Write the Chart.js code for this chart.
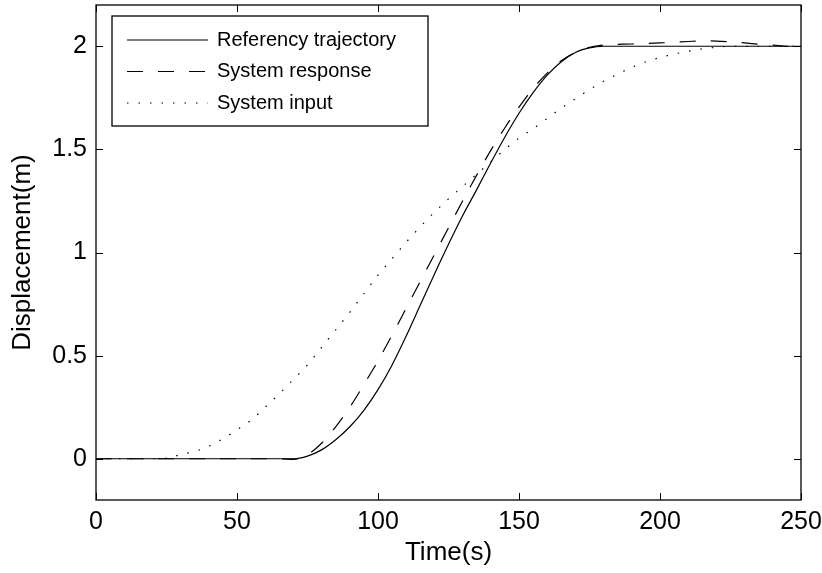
<!DOCTYPE html>
<html>
<head>
<meta charset="utf-8">
<script src="https://cdn.jsdelivr.net/npm/chart.js@4.4.0/dist/chart.umd.min.js"></script>
<style>
  html, body { margin: 0; padding: 0; background: #fff; }
  #wrap { width: 822px; height: 573px; }
</style>
</head>
<body>
<div id="wrap"><canvas id="chart"></canvas></div>
<script>
// values (time in s, displacement in m)
const refTime = [0, 10, 20, 30, 40, 50, 60, 65, 70, 75, 80, 85, 90, 95, 100, 105, 110, 115, 120, 125, 130, 135, 140, 145, 150, 155, 160, 165, 170, 175, 180, 200, 225, 250];
const refValues = [0, 0, 0, 0, 0, 0, 0, 0, 0, 0.013, 0.043, 0.092, 0.155, 0.235, 0.335, 0.455, 0.595, 0.745, 0.895, 1.04, 1.178, 1.305, 1.435, 1.56, 1.675, 1.775, 1.86, 1.925, 1.97, 1.992, 2, 2, 2, 2];

const respTime = [0, 10, 20, 30, 40, 50, 60, 65, 70, 75, 80, 85, 90, 95, 100, 105, 110, 115, 120, 125, 130, 135, 140, 145, 150, 155, 160, 165, 170, 175, 180, 190, 200, 210, 215, 220, 225, 230, 235, 240, 245, 250];
const respValues = [0, 0, 0, 0, 0, 0, 0, 0, -0.003, 0.02, 0.075, 0.155, 0.25, 0.36, 0.475, 0.6, 0.73, 0.86, 0.99, 1.12, 1.25, 1.375, 1.495, 1.605, 1.705, 1.795, 1.87, 1.93, 1.97, 1.995, 2.006, 2.011, 2.016, 2.023, 2.026, 2.025, 2.021, 2.016, 2.01, 2.005, 2.0, 1.995];

const inputTime = [0, 10, 20, 25, 30, 35, 40, 45, 50, 55, 60, 65, 70, 75, 80, 85, 90, 95, 100, 105, 110, 115, 120, 125, 130, 135, 140, 145, 150, 155, 160, 165, 170, 175, 180, 185, 190, 195, 200, 205, 210, 215, 220, 225, 235, 250];
const inputValues = [0, 0, 0, 0.003, 0.02, 0.036, 0.06, 0.097, 0.14, 0.187, 0.25, 0.315, 0.385, 0.455, 0.54, 0.625, 0.71, 0.8, 0.89, 0.97, 1.05, 1.125, 1.195, 1.26, 1.32, 1.38, 1.44, 1.5, 1.555, 1.6, 1.65, 1.7, 1.745, 1.79, 1.83, 1.865, 1.898, 1.925, 1.945, 1.962, 1.976, 1.987, 1.995, 2.0, 2.0, 2.0];

const seriesNames = ['Referency trajectory', 'System response', 'System input'];
const xTicks = [0, 50, 100, 150, 200, 250];
const yTicks = [0, 0.5, 1, 1.5, 2];

const FONT = '"Liberation Sans", Arial, Helvetica, sans-serif';

function pts(xs, ys) {
    return xs.map((x, i) => ({x: x, y: ys[i]}));
}

// matlab style box with inward ticks and a legend in the upper left
const boxPlugin = {
    id: 'matlabBox',
    afterDatasetsDraw(chart) {
        const ctx = chart.ctx;
        const a = chart.chartArea;
        const xs = chart.scales.x, ys = chart.scales.y;
        const tl = 7;
        ctx.save();
        ctx.strokeStyle = '#000';
        ctx.lineWidth = 1.3;
        ctx.setLineDash([]);
        ctx.strokeRect(a.left, a.top, a.right - a.left, a.bottom - a.top);
        ctx.lineWidth = 1;
        ctx.beginPath();
        xTicks.forEach(v => {
            const px = Math.round(xs.getPixelForValue(v)) + 0.5;
            ctx.moveTo(px, a.bottom); ctx.lineTo(px, a.bottom - tl);
            ctx.moveTo(px, a.top); ctx.lineTo(px, a.top + tl);
        });
        yTicks.forEach(v => {
            const py = Math.round(ys.getPixelForValue(v)) + 0.5;
            ctx.moveTo(a.left, py); ctx.lineTo(a.left + tl, py);
            ctx.moveTo(a.right, py); ctx.lineTo(a.right - tl, py);
        });
        ctx.stroke();

        // legend
        const lx = a.left + 16, ly = a.top + 11, lw = 316, lh = 110;
        ctx.fillStyle = '#fff';
        ctx.fillRect(lx, ly, lw, lh);
        ctx.lineWidth = 1.3;
        ctx.strokeRect(lx, ly, lw, lh);
        ctx.font = '20px ' + FONT;
        ctx.textBaseline = 'middle';
        ctx.textAlign = 'left';
        chart.data.datasets.forEach((ds, i) => {
            const y = ly + 24 + i * 31.5;
            ctx.beginPath();
            ctx.lineWidth = ds.borderWidth;
            ctx.setLineDash(ds.borderDash || []);
            ctx.moveTo(lx + 15, y);
            ctx.lineTo(lx + 96, y);
            ctx.stroke();
            ctx.setLineDash([]);
            ctx.fillStyle = '#000';
            ctx.fillText(ds.label, lx + 105, y);
        });
        ctx.restore();
    }
};

new Chart(document.getElementById('chart').getContext('2d'), {
    type: 'line',
    data: {
        datasets: [{
            label: seriesNames[0],
            data: pts(refTime, refValues),
            borderColor: '#000',
            borderWidth: 1.2,
            pointRadius: 0,
            cubicInterpolationMode: 'monotone'
        }, {
            label: seriesNames[1],
            data: pts(respTime, respValues),
            borderColor: '#000',
            borderWidth: 1.2,
            borderDash: [16, 15],
            pointRadius: 0,
            cubicInterpolationMode: 'monotone'
        }, {
            label: seriesNames[2],
            data: pts(inputTime, inputValues),
            borderColor: '#000',
            borderWidth: 1.2,
            borderDash: [1.5, 10],
            pointRadius: 0,
            cubicInterpolationMode: 'monotone'
        }]
    },
    options: {
        responsive: true,
        maintainAspectRatio: false,
        animation: false,
        layout: { padding: { top: 5, right: 21, left: 0, bottom: 0 } },
        plugins: {
            legend: { display: false },
            tooltip: { enabled: false }
        },
        scales: {
            x: {
                type: 'linear',
                min: 0,
                max: 250,
                grid: { display: false, drawTicks: false },
                border: { display: false },
                afterBuildTicks: s => { s.ticks = xTicks.map(v => ({value: v})); },
                afterFit: s => { s.height = 73; s.paddingLeft = 0; s.paddingRight = 0; },
                ticks: {
                    padding: 7,
                    color: '#000',
                    maxRotation: 0,
                    font: { family: FONT, size: 25 },
                    callback: v => String(v)
                },
                title: {
                    display: true,
                    text: 'Time(s)',
                    color: '#000',
                    font: { family: FONT, size: 26 },
                    padding: { top: 0, bottom: 5 }
                }
            },
            y: {
                type: 'linear',
                min: -0.2,
                max: 2.2,
                grid: { display: false, drawTicks: false },
                border: { display: false },
                afterBuildTicks: s => { s.ticks = yTicks.map(v => ({value: v})); },
                afterFit: s => { s.width = 96; s.paddingTop = 0; s.paddingBottom = 0; },
                ticks: {
                    padding: 9,
                    color: '#000',
                    font: { family: FONT, size: 25 },
                    callback: v => String(v)
                },
                title: {
                    display: true,
                    text: 'Displacement(m)',
                    color: '#000',
                    font: { family: FONT, size: 26 },
                    padding: { top: 7, bottom: 0 }
                }
            }
        }
    },
    plugins: [boxPlugin]
});
</script>
</body>
</html>
